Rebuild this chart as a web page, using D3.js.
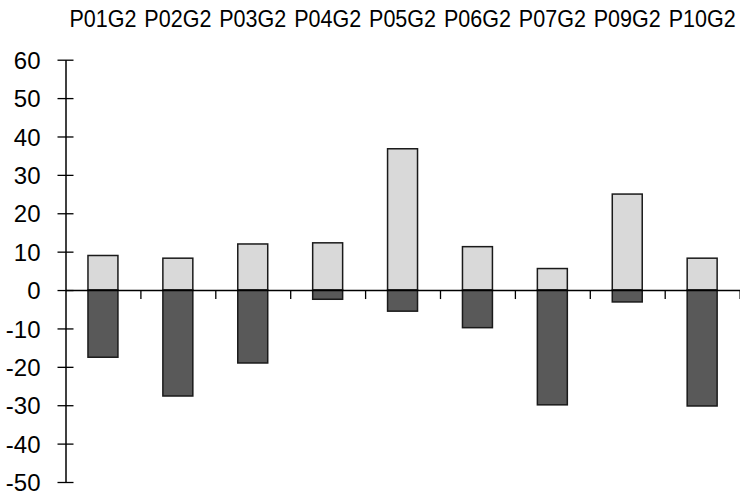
<!DOCTYPE html>
<html>
<head>
<meta charset="utf-8">
<script src="https://cdn.jsdelivr.net/npm/d3@7"></script>
<style>
  body { margin: 0; background: #fff; }
  text { font-family: Arial, "Liberation Sans", sans-serif; fill: #000; }
</style>
</head>
<body>
<div id="chart"></div>
<script>
// data
var categories = ["P01G2", "P02G2", "P03G2", "P04G2", "P05G2", "P06G2", "P07G2", "P09G2", "P10G2"];
var positive = [9.0, 8.3, 12.0, 12.3, 36.8, 11.3, 5.6, 25.0, 8.3];
var negative = [-17.5, -27.6, -19.0, -2.4, -5.5, -9.8, -29.9, -3.1, -30.2];
var yTicks = [60, 50, 40, 30, 20, 10, 0, -10, -20, -30, -40, -50];

var width = 740, height = 492;
var left = 65.5, right = 739.6;

var svg = d3.select("#chart").append("svg")
  .attr("width", width)
  .attr("height", height);

// scales
var x = d3.scaleBand().domain(categories).range([left, right]).padding(0);
var xEdge = d3.scaleLinear().domain([0, categories.length]).range([left, right]);
var y = d3.scaleLinear().domain([-50, 60]).range([482, 59.7]);

var barW = x.bandwidth() * 0.4;

// bars
function drawBars(values, fill) {
  svg.append("g").selectAll("rect")
    .data(values)
    .join("rect")
    .attr("x", (d, i) => x(categories[i]) + (x.bandwidth() - barW) / 2)
    .attr("y", d => y(Math.max(0, d)))
    .attr("width", barW)
    .attr("height", d => Math.abs(y(d) - y(0)))
    .attr("fill", fill)
    .attr("stroke", "#1a1a1a")
    .attr("stroke-width", 1.5);
}
drawBars(positive, "#d9d9d9");
drawBars(negative, "#595959");

// y axis with crossing ticks, plain hyphen for negatives
var yAxis = svg.append("g")
  .attr("transform", "translate(" + left + ",0)")
  .call(d3.axisLeft(y)
    .tickValues(yTicks)
    .tickFormat(d => String(d))
    .tickSize(8)
    .tickSizeOuter(0)
    .tickPadding(17));
yAxis.select(".domain").attr("stroke", "#000").attr("stroke-width", 1.5);
yAxis.selectAll(".tick line").attr("x1", -8).attr("x2", 8).attr("stroke", "#000").attr("stroke-width", 1.3);
yAxis.selectAll(".tick text")
  .style("font-size", "24px")
  .attr("dy", "0.36em");

// x axis at zero, ticks at band edges
var xAxis = svg.append("g")
  .attr("transform", "translate(0," + y(0) + ")")
  .call(d3.axisBottom(xEdge)
    .tickValues(d3.range(1, categories.length + 1))
    .tickFormat("")
    .tickSize(9)
    .tickSizeOuter(0));
xAxis.select(".domain").attr("stroke", "#000").attr("stroke-width", 1.5);
xAxis.selectAll(".tick line").attr("stroke", "#000").attr("stroke-width", 1.3);

// category labels on top
svg.append("g").selectAll("text")
  .data(categories)
  .join("text")
  .attr("x", d => x(d) + x.bandwidth() / 2)
  .attr("y", 27)
  .attr("text-anchor", "middle")
  .attr("textLength", 67)
  .attr("lengthAdjust", "spacingAndGlyphs")
  .style("font-size", "24px")
  .text(d => d);
</script>
</body>
</html>
